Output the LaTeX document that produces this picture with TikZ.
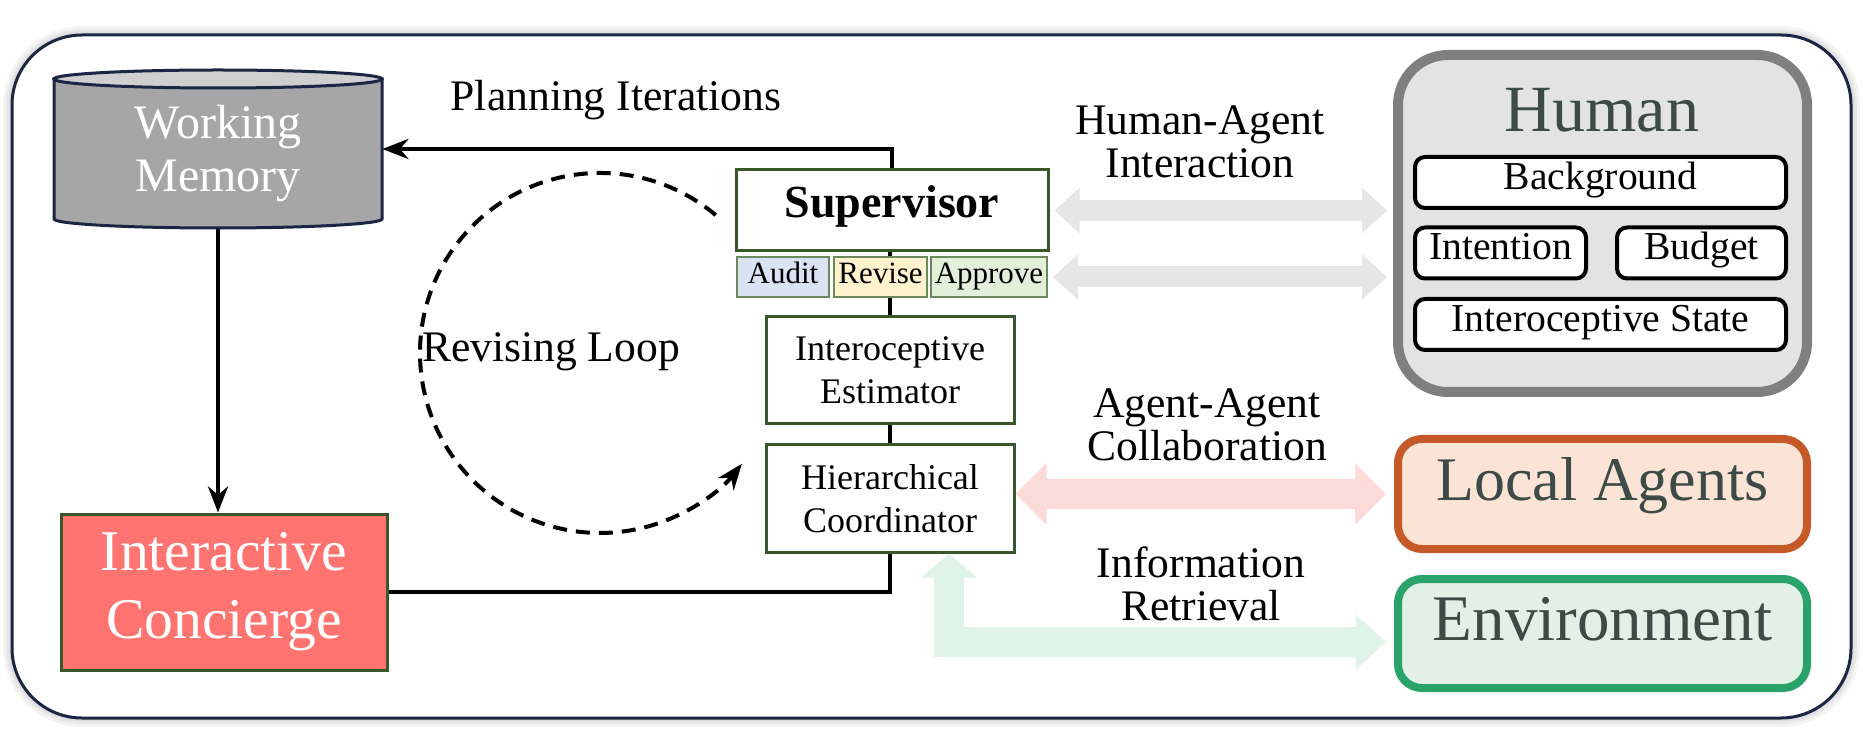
\documentclass[tikz,border=0pt]{standalone}
\usepackage{fontspec}
\setmainfont{Liberation Serif}
\usetikzlibrary{arrows.meta,shadows.blur}
\definecolor{navy}{HTML}{1C2642}
\definecolor{dgreen}{HTML}{38572A}
\definecolor{subline}{HTML}{6A8A5C}
\definecolor{auditc}{HTML}{DAE3F3}
\definecolor{revisec}{HTML}{FFF2CC}
\definecolor{approvec}{HTML}{E2F0D9}
\definecolor{wmgrey}{HTML}{A6A6A6}
\definecolor{wmtop}{HTML}{CFCFCF}
\definecolor{icred}{HTML}{FF7470}
\definecolor{arrgrey}{HTML}{E6E6E6}
\definecolor{arrpink}{HTML}{FCDAD7}
\definecolor{arrgreen}{HTML}{DFF3E8}
\definecolor{hfill}{HTML}{E3E3E3}
\definecolor{hline}{HTML}{7F7F7F}
\definecolor{lafill}{HTML}{FBE3D6}
\definecolor{laline}{HTML}{C55A28}
\definecolor{envfill}{HTML}{E2F0E6}
\definecolor{envline}{HTML}{2AA36A}
\definecolor{slate}{HTML}{3D4B46}
\definecolor{shadowc}{HTML}{D4D4D4}
\pgfdeclarelayer{bg}
\pgfsetlayers{bg,main}
\tikzset{
  ctr/.style={text height=0.88em, text depth=0.2em},
  lbl/.style={align=center, font=\fontsize{21.8}{21.5}\selectfont, inner sep=0pt},
  gbox/.style={draw=dgreen, line width=1.5pt, fill=white, inner sep=0pt, align=center},
  sbox/.style={ctr, draw=subline, line width=1pt, inner sep=0pt, minimum height=20pt,
    font=\fontsize{15.5}{16}\selectfont},
  wbox/.style={ctr, draw=black, line width=2pt, fill=white, rounded corners=5pt, inner sep=0pt,
    minimum height=25.5pt, font=\fontsize{19.8}{20}\selectfont},
  bigbox/.style={ctr, line width=4pt, rounded corners=12pt, minimum width=204.5pt, inner sep=0pt,
    text=slate},
  blk/.style={line width=2.2pt, draw=black},
  blkarr/.style={blk, -{Stealth[length=13pt,width=10pt]}},
  halo/.style={draw=shadowc, rounded corners=35pt},
}
\begin{document}
\begin{tikzpicture}[x=0.5pt,y=-0.5pt]
\useasboundingbox (0,0) rectangle (1863,732);
% outer frame with soft halo
\begin{pgfonlayer}{bg}
\draw[halo, line width=9pt, opacity=0.25] (12,35) rectangle (1851,718);
\draw[halo, line width=6pt, opacity=0.35] (12,35) rectangle (1851,718);
\draw[halo, line width=3.5pt, opacity=0.5] (12,35) rectangle (1851,718);
\draw[navy, line width=1.5pt, fill=white, rounded corners=35pt] (12,35) rectangle (1851,718);
\end{pgfonlayer}

% working memory cylinder
\node[minimum width=164pt, minimum height=79pt, inner sep=0pt] (WM) at (218,149) {};
\filldraw[fill=wmgrey, draw=navy, line width=1.5pt] (54,79) -- (54,219)
  arc[start angle=180, end angle=360, x radius=82pt, y radius=4.5pt] -- (382,79) -- cycle;
\filldraw[fill=wmtop, draw=navy, line width=1.5pt] (218,79) ellipse[x radius=82pt, y radius=4.5pt];
\node[align=center, text=white, font=\fontsize{24}{26.5}\selectfont] (WMt) at (218,153.5) {Working\\Memory};

% interactive concierge
\node[gbox, fill=icred, minimum width=163pt, minimum height=78pt, text=white,
  font=\fontsize{28.8}{34}\selectfont] (IC) at (224,592) {Interactive\\Concierge};

% supervisor stack
\node[gbox, ctr, minimum width=156pt, minimum height=40.5pt, font=\bfseries\fontsize{23}{24}\selectfont] (S) at (892,210.5) {Supervisor};
\node[sbox, fill=auditc, minimum width=46pt] (Au) at (783,277) {Audit};
\node[sbox, fill=revisec, minimum width=46.5pt] (Re) at (880.5,277) {Revise};
\node[sbox, fill=approvec, minimum width=58pt] (Ap) at (989,277) {Approve};
\node[gbox, minimum width=124pt, minimum height=53.5pt, font=\fontsize{18}{21.5}\selectfont] (IE) at (890,370.5) {Interoceptive\\Estimator};
\node[gbox, minimum width=124pt, minimum height=53.5pt, font=\fontsize{18}{21.5}\selectfont] (HC) at (890,498.5) {Hierarchical\\Coordinator};

% human
\node[draw=hline, fill=hfill, line width=5pt, rounded corners=25pt, minimum width=204.5pt,
  minimum height=168.5pt] (H) at (1602.5,223.5) {};
\node[text=slate, font=\fontsize{33}{34}\selectfont, inner sep=0pt] (Ht) at (1602,110) {Human};
\node[wbox, minimum width=185.5pt] (Bg) at (1600.5,182.5) {Background};
\node[wbox, minimum width=85.5pt] (In) at (1500.5,253) {Intention};
\node[wbox, minimum width=84.5pt] (Bu) at (1701.5,253) {Budget};
\node[wbox, minimum width=185.5pt] (IS) at (1600.5,324.5) {Interoceptive State};

% local agents and environment
\node[bigbox, draw=laline, fill=lafill, minimum height=55pt, font=\fontsize{31}{32}\selectfont] (LA) at (1602.5,494) {Local Agents};
\node[bigbox, draw=envline, fill=envfill, minimum height=54.5pt, font=\fontsize{32.5}{34}\selectfont] (Env) at (1602.5,633.5) {Environment};

% labels
\node[lbl] (lPlan) at (616,100) {Planning Iterations};
\node[lbl] (lLoop) at (551,352) {Revising Loop};
\node[lbl] (lHA) at (1200,142) {Human-Agent\\Interaction};
\node[lbl] (lAA) at (1207,425) {Agent-Agent\\Collaboration};
\node[lbl] (lIR) at (1201,584) {Information\\Retrieval};

% connectors
\begin{pgfonlayer}{bg}
\draw[blk] (S.south -| IE.north) -- (IE.north);
\draw[blk] (IE.south) -- (HC.north);
\draw[blk] (IC.east) -| (HC.south);
\draw[blkarr] (S.north) |- (WM.east);
\draw[blkarr] (WM.south) -- (WM.south |- IC.north);
% fat arrows
\draw[arrgrey, line width=10.5pt, shorten <=2.5pt, shorten >=3pt,
  {Triangle[length=12.5pt,width=22pt]}-{Triangle[length=12.5pt,width=22pt]}]
  (S.east) -- (S.east -| H.west);
\draw[arrgrey, line width=10.5pt, shorten <=2.5pt, shorten >=3pt,
  {Triangle[length=12.5pt,width=22pt]}-{Triangle[length=12.5pt,width=22pt]}]
  (Ap.east) -- (Ap.east -| H.west);
\draw[arrpink, line width=15pt, shorten >=4pt,
  {Triangle[length=15.5pt,width=30pt]}-{Triangle[length=15.5pt,width=30pt]}]
  (HC.east |- LA.west) -- (LA.west);
\draw[arrgreen, line width=15pt, shorten <=4pt, miter limit=10,
  {Triangle[length=15pt,width=26.5pt]}-{Triangle[length=12pt,width=27pt]}]
  ([yshift=-4.25pt]Env.west) -| ([xshift=29.5pt]HC.south);
\end{pgfonlayer}

% revising loop
\coordinate (loopstart) at (715.7,215.1);
\draw[line width=2pt, dash pattern=on 7pt off 4.5pt, -{Stealth[length=13pt,width=10pt]}]
  (loopstart) arc[start angle=50, end angle=322, radius=90pt];
\end{tikzpicture}
\end{document}
